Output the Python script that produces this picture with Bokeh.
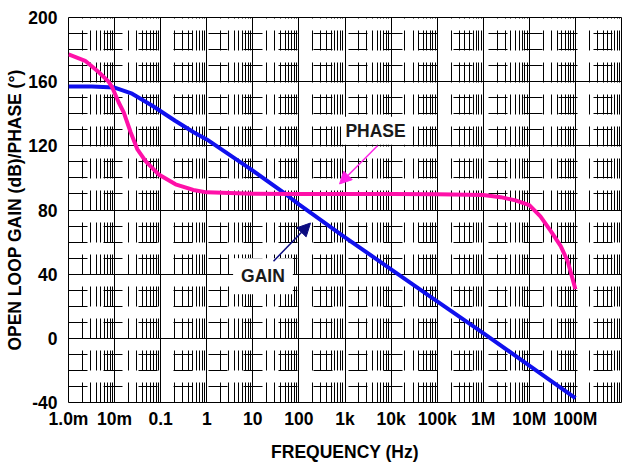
from bokeh.plotting import figure
from bokeh.models import FixedTicker, Label, Arrow, NormalHead, Range1d
from bokeh.embed import file_html
from bokeh.resources import INLINE

# ---- data ----
gain_freq = [1e-3, 3.2e-3, 1e-2, 0.024, 0.066, 0.21, 0.52, 1, 10, 51, 100,
             1e3, 1e4, 1e5, 1e6, 1e7, 1e8]
gain_db = [157, 157, 156.3, 152.5, 145, 135.5, 128.5, 124, 104.5, 90, 83.5,
           63, 43, 23, 3.3, -17, -37.3]

phase_freq = [1e-3, 2.3e-3, 4.5e-3, 7.4e-3, 8.9e-3, 0.0123, 0.0158, 0.0224,
              0.031, 0.047, 0.089, 0.21, 0.51, 1, 10, 100, 1e3, 1e4, 1e5,
              1e6, 2.4e6, 5e6, 1e7, 1.74e7, 2.9e7, 4.8e7, 6.8e7, 1e8]
phase_deg = [177, 173, 166, 160, 156.4, 147, 140.8, 128.3,
             118, 110.5, 102.3, 96, 92.5, 91, 90.2, 90, 90, 90, 89.8,
             89.3, 88, 86, 83, 76, 67, 57.5, 48, 30.6]

x_ticks = [1e-3, 1e-2, 1e-1, 1, 10, 100, 1e3, 1e4, 1e5, 1e6, 1e7, 1e8, 1e9]
x_tick_labels = ["1.0m", "10m", "0.1", "1", "10", "100", "1k", "10k", "100k",
                 "1M", "10M", "100M", ""]
y_ticks = [-40, 0, 40, 80, 120, 160, 200]
y_tick_labels = ["-40", "0", "40", "80", "120", "160", "200"]
y_minor = [v for v in range(-40, 201, 10)]

FONT = "Liberation Sans"
FS = "17.5px"

p = figure(width=628, height=464, x_axis_type="log",
           x_range=Range1d(1e-3, 1e9), y_range=Range1d(-40, 200),
           output_backend="svg", toolbar_location=None,
           min_border_left=68, min_border_top=17, min_border_right=7,
           min_border_bottom=62)

x_minor = []
for d in x_ticks[:-1]:
    for m in range(2, 10):
        x_minor.append(d * m)

xt = FixedTicker(ticks=x_ticks, minor_ticks=x_minor)
yt = FixedTicker(ticks=y_ticks, minor_ticks=y_minor)
p.xaxis.ticker = xt
p.yaxis.ticker = yt
p.xgrid.ticker = xt
p.ygrid.ticker = yt
p.xaxis.major_label_overrides = {t: l for t, l in zip(x_ticks, x_tick_labels)}
p.yaxis.major_label_overrides = {t: l for t, l in zip(y_ticks, y_tick_labels)}

for ax in (p.xaxis[0], p.yaxis[0]):
    ax.major_tick_line_color = None
    ax.minor_tick_line_color = None
    ax.axis_line_color = None
    ax.major_label_text_font = FONT
    ax.major_label_text_font_style = "bold"
    ax.major_label_text_font_size = FS
    ax.major_label_text_color = "black"
    ax.axis_label_text_font = FONT
    ax.axis_label_text_font_style = "bold"
    ax.axis_label_text_font_size = FS
    ax.axis_label_text_color = "black"

p.xaxis.axis_label = "FREQUENCY (Hz)"
p.yaxis.axis_label = "OPEN LOOP GAIN (dB)/PHASE (°)"
p.xaxis.major_label_standoff = 0
p.xaxis.axis_label_standoff = 10
p.yaxis.major_label_standoff = 5
p.yaxis.axis_label_standoff = 0

for g in (p.xgrid[0], p.ygrid[0]):
    g.grid_line_color = "black"
    g.grid_line_alpha = 1
    g.grid_line_width = 1
    g.minor_grid_line_color = "black"
    g.minor_grid_line_alpha = 1
    g.minor_grid_line_width = 1
p.xgrid.minor_grid_line_dash = "20 12"
p.ygrid.minor_grid_line_dash = "19 16"

p.outline_line_color = "black"
p.outline_line_width = 1
p.outline_line_alpha = 1
p.background_fill_color = "white"
p.border_fill_color = "white"

p.line(gain_freq, gain_db, line_color="#1010ee", line_width=4, line_join="round")
p.line(phase_freq, phase_deg, line_color="#ff10a8", line_width=4, line_join="round")

phase_lbl = Label(x=4.6e3, y=129.4, text="PHASE", text_font=FONT,
                  text_font_style="bold", text_font_size=FS, text_color="#1a1a1a",
                  text_align="center", text_baseline="middle",
                  background_fill_color="white", padding=4)
gain_lbl = Label(x=16.6, y=38.75, text="GAIN", text_font=FONT,
                 text_font_style="bold", text_font_size=FS, text_color="#1a1a1a",
                 text_align="center", text_baseline="middle",
                 background_fill_color="white", padding=8)
p.add_layout(phase_lbl)
p.add_layout(gain_lbl)

p.add_layout(Arrow(end=NormalHead(size=12, fill_color="#ff22e6", line_color="#ff22e6"),
                   x_start=5.08e3, y_start=120, x_end=760, y_end=96.25,
                   line_color="#ff22e6", line_width=1.5))
p.add_layout(Arrow(end=NormalHead(size=13, fill_color="#0a0a80", line_color="#0a0a80"),
                   x_start=28.1, y_start=48.1, x_end=178.6, y_end=71.9,
                   line_color="#0a0a80", line_width=1.5))

open("out.html", "w").write(file_html(p, INLINE))
